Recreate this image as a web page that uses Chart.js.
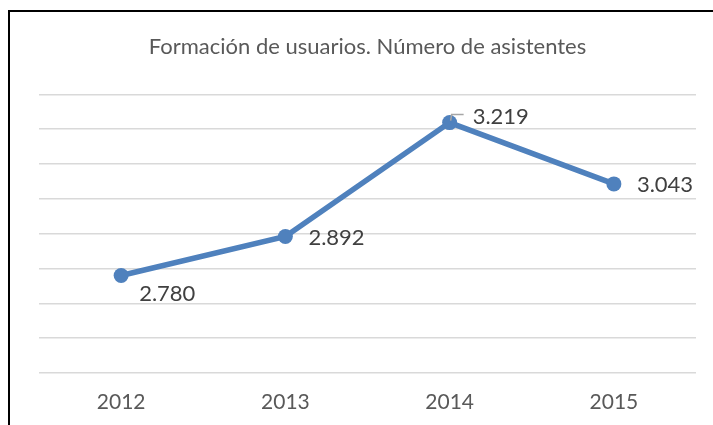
<!DOCTYPE html>
<html lang="es">
<head>
<meta charset="utf-8">
<title>Formación de usuarios</title>
<script src="https://cdn.jsdelivr.net/npm/chart.js@4.4.1/dist/chart.umd.min.js"></script>
<style>
    html, body { margin: 0; padding: 0; background: #fff; }
    #wrap { position: relative; width: 713px; height: 425px; overflow: hidden; }
    #frame {
        position: absolute; left: 8px; top: 10px; right: -10px; bottom: -10px;
        border-left: 2px solid #000; border-top: 2px solid #000;
    }
    #chart { position: absolute; left: 0; top: 0; }
</style>
</head>
<body>
<div id="wrap">
    <div id="frame"></div>
    <canvas id="chart" width="713" height="425"></canvas>
</div>
<script>
const years = ['2012', '2013', '2014', '2015'];
const asistentes = [2780, 2892, 3219, 3043];
const yMin = 2500;
const yMax = 3300;
const yStep = 100;
const chartTitle = 'Formación de usuarios. Número de asistentes';

// where each value label sits relative to its point
const labelPlacement = [
    { dx: 18, dy: 17, leader: false },
    { dx: 23, dy: 0, leader: false },
    { dx: 23, dy: -7, leader: true },
    { dx: 23, dy: 0, leader: false }
];

function formatNumber(n) {
    return String(n).replace(/\B(?=(\d{3})+(?!\d))/g, '.');
}

const valueLabels = {
    id: 'valueLabels',
    afterDatasetsDraw(chart) {
        const ctx = chart.ctx;
        const meta = chart.getDatasetMeta(0);
        ctx.save();
        ctx.font = '22px Lato';
        ctx.fillStyle = '#404040';
        ctx.textAlign = 'left';
        ctx.textBaseline = 'middle';
        meta.data.forEach((pt, i) => {
            const p = labelPlacement[i];
            const x = pt.x + p.dx;
            const y = pt.y + p.dy;
            if (p.leader) {
                ctx.strokeStyle = '#a6a6a6';
                ctx.lineWidth = 1.5;
                ctx.beginPath();
                ctx.moveTo(pt.x + 1, pt.y - 2);
                ctx.lineTo(pt.x + 2, y - 1);
                ctx.lineTo(x - 9, y - 1);
                ctx.stroke();
            }
            ctx.fillText(formatNumber(asistentes[i]), x, y + 1);
        });
        ctx.restore();
    }
};

new Chart(document.getElementById('chart'), {
    type: 'line',
    data: {
        labels: years,
        datasets: [{
            data: asistentes,
            borderColor: '#4f81bd',
            backgroundColor: '#4f81bd',
            borderWidth: 5.5,
            pointRadius: 7.5,
            pointBorderWidth: 0,
            pointBackgroundColor: '#4f81bd',
            tension: 0
        }]
    },
    options: {
        responsive: false,
        animation: false,
        layout: { padding: { left: 39, right: 17, top: 0, bottom: 0 } },
        plugins: {
            legend: { display: false },
            tooltip: { enabled: false },
            title: {
                display: true,
                text: chartTitle,
                color: '#595959',
                font: { family: 'Lato', size: 22, weight: 'normal' },
                padding: { top: 34, bottom: 34 }
            }
        },
        scales: {
            x: {
                offset: true,
                grid: { display: false, drawTicks: false },
                border: { display: false },
                ticks: {
                    color: '#595959',
                    font: { family: 'Lato', size: 21 },
                    padding: 17,
                    maxRotation: 0
                },
                afterFit(scale) {
                    scale.height = 52;
                }
            },
            y: {
                min: yMin,
                max: yMax,
                border: { display: false },
                grid: { color: '#d9d9d9', lineWidth: 1.5, drawTicks: false },
                ticks: { display: false, stepSize: yStep }
            }
        }
    },
    plugins: [valueLabels]
});
</script>
</body>
</html>
